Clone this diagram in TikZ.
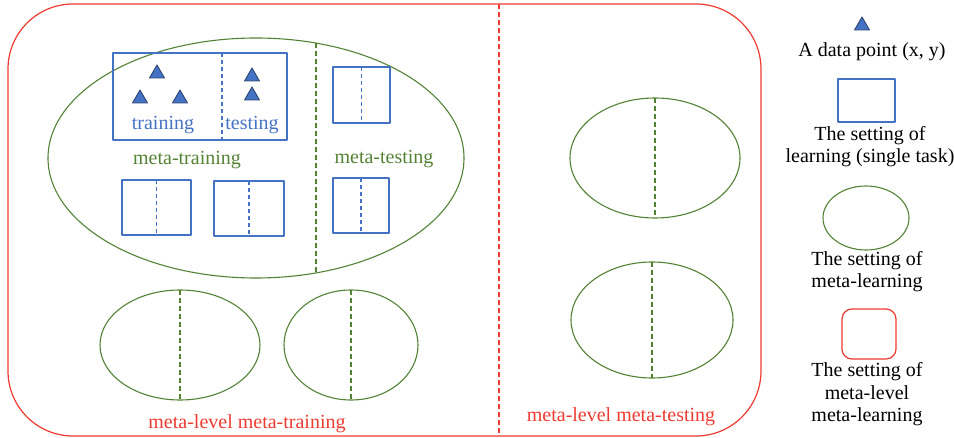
\documentclass[tikz,border=0pt]{standalone}
\usepackage{fontspec}
\setmainfont{Liberation Serif}
\usetikzlibrary{positioning}

\definecolor{mlblue}{HTML}{4472C4}
\definecolor{mlgreen}{HTML}{548235}
\definecolor{mlred}{HTML}{EE3B30}
\definecolor{ptedge}{HTML}{2F4670}

% one task box: frame plus dashed train/test split
\newcommand{\taskbox}[4]{%
  \draw[task] (#1,#2) rectangle (#3,#4);
  \draw[task,dash pattern=on 4pt off 3pt] ({(#1+#3)/2},#2) -- ({(#1+#3)/2},#4);}
% one meta-learning setting: ellipse plus dashed split
\newcommand{\metaset}[4]{%
  \draw[meta] (#1,#2) ellipse [x radius=#3,y radius=#4];
  \draw[meta,dash pattern=on 5pt off 3pt] (#1,#2-#4) -- (#1,#2+#4);}
% a data point (x,y), apex at the given spot
\newcommand{\datapt}[2]{%
  \filldraw[datapt] (#1,#2) -- ++(7.5,13) -- ++(-15,0) -- cycle;}

\begin{document}
\begin{tikzpicture}[x=1pt,y=-1pt,line join=round,
    txt/.style={font=\fontsize{20}{22.5}\selectfont,inner sep=0pt,align=center},
    task/.style={draw=mlblue,line width=1.1pt},
    meta/.style={draw=mlgreen,line width=1.1pt},
    metameta/.style={draw=mlred,line width=1.2pt},
    datapt/.style={fill=mlblue,draw=ptedge,line width=0.9pt}]
\useasboundingbox (0,0) rectangle (954,438);

% outer frame of meta-level meta-learning
\draw[metameta,rounded corners=65pt] (8,4) rectangle (761,436);
\draw[metameta,dash pattern=on 5pt off 3pt] (499,4) -- (499,436);

% big meta-learning setting
\draw[meta] (256,158) ellipse [x radius=208,y radius=120];
\draw[meta,dash pattern=on 5pt off 3pt] (316,43) -- (316,273);

% the opened-up task with its data points
\draw[task] (113,53) rectangle (287,140);
\draw[task,dash pattern=on 4pt off 3pt] (222,53) -- (222,140);
\foreach \px/\py in {157/65,140/90,180/90,252/68,252/87}
  {\datapt{\px}{\py}}
\node[txt,text=mlblue,anchor=base] (trainlbl) at (163,130) {training};
\node[txt,text=mlblue,anchor=base] (testlbl) at (252,130) {testing};

% remaining tasks
\taskbox{122}{180}{191}{235}
\taskbox{214}{181}{284}{236}
\taskbox{333}{67}{390}{123}
\taskbox{333}{178}{389}{233}

\node[txt,text=mlgreen,anchor=base] (mtrainlbl) at (187,165) {meta-training};
\node[txt,text=mlgreen,anchor=base] (mtestlbl) at (384,164) {meta-testing};

% other meta-learning settings
\metaset{180}{345}{80}{55}
\metaset{351}{345}{67}{55}
\metaset{655}{158}{85}{60}
\metaset{652}{320}{81}{58}

\node[txt,text=mlred,anchor=base] (mlmtrain) at (247,429) {meta-level meta-training};
\node[txt,text=mlred,anchor=base] (mlmtest) at (621,422) {meta-level meta-testing};

% key (multi-line nodes sit on their last baseline)
\datapt{862}{17}
\node[txt,anchor=base] (key1) at (872,57) {A data point (x, y)};
\draw[task] (838,79) rectangle (895,122);
\node[txt,anchor=base] (key2) at (870,163) {The setting of\\learning (single task)};
\draw[meta] (866,218) ellipse [x radius=43,y radius=32];
\node[txt,anchor=base] (key3) at (867,288) {The setting of\\meta-learning};
\draw[metameta,rounded corners=10pt] (842,309) rectangle (896,359);
\node[txt,anchor=base] (key4) at (867,422) {The setting of\\meta-level\\meta-learning};
\end{tikzpicture}
\end{document}
